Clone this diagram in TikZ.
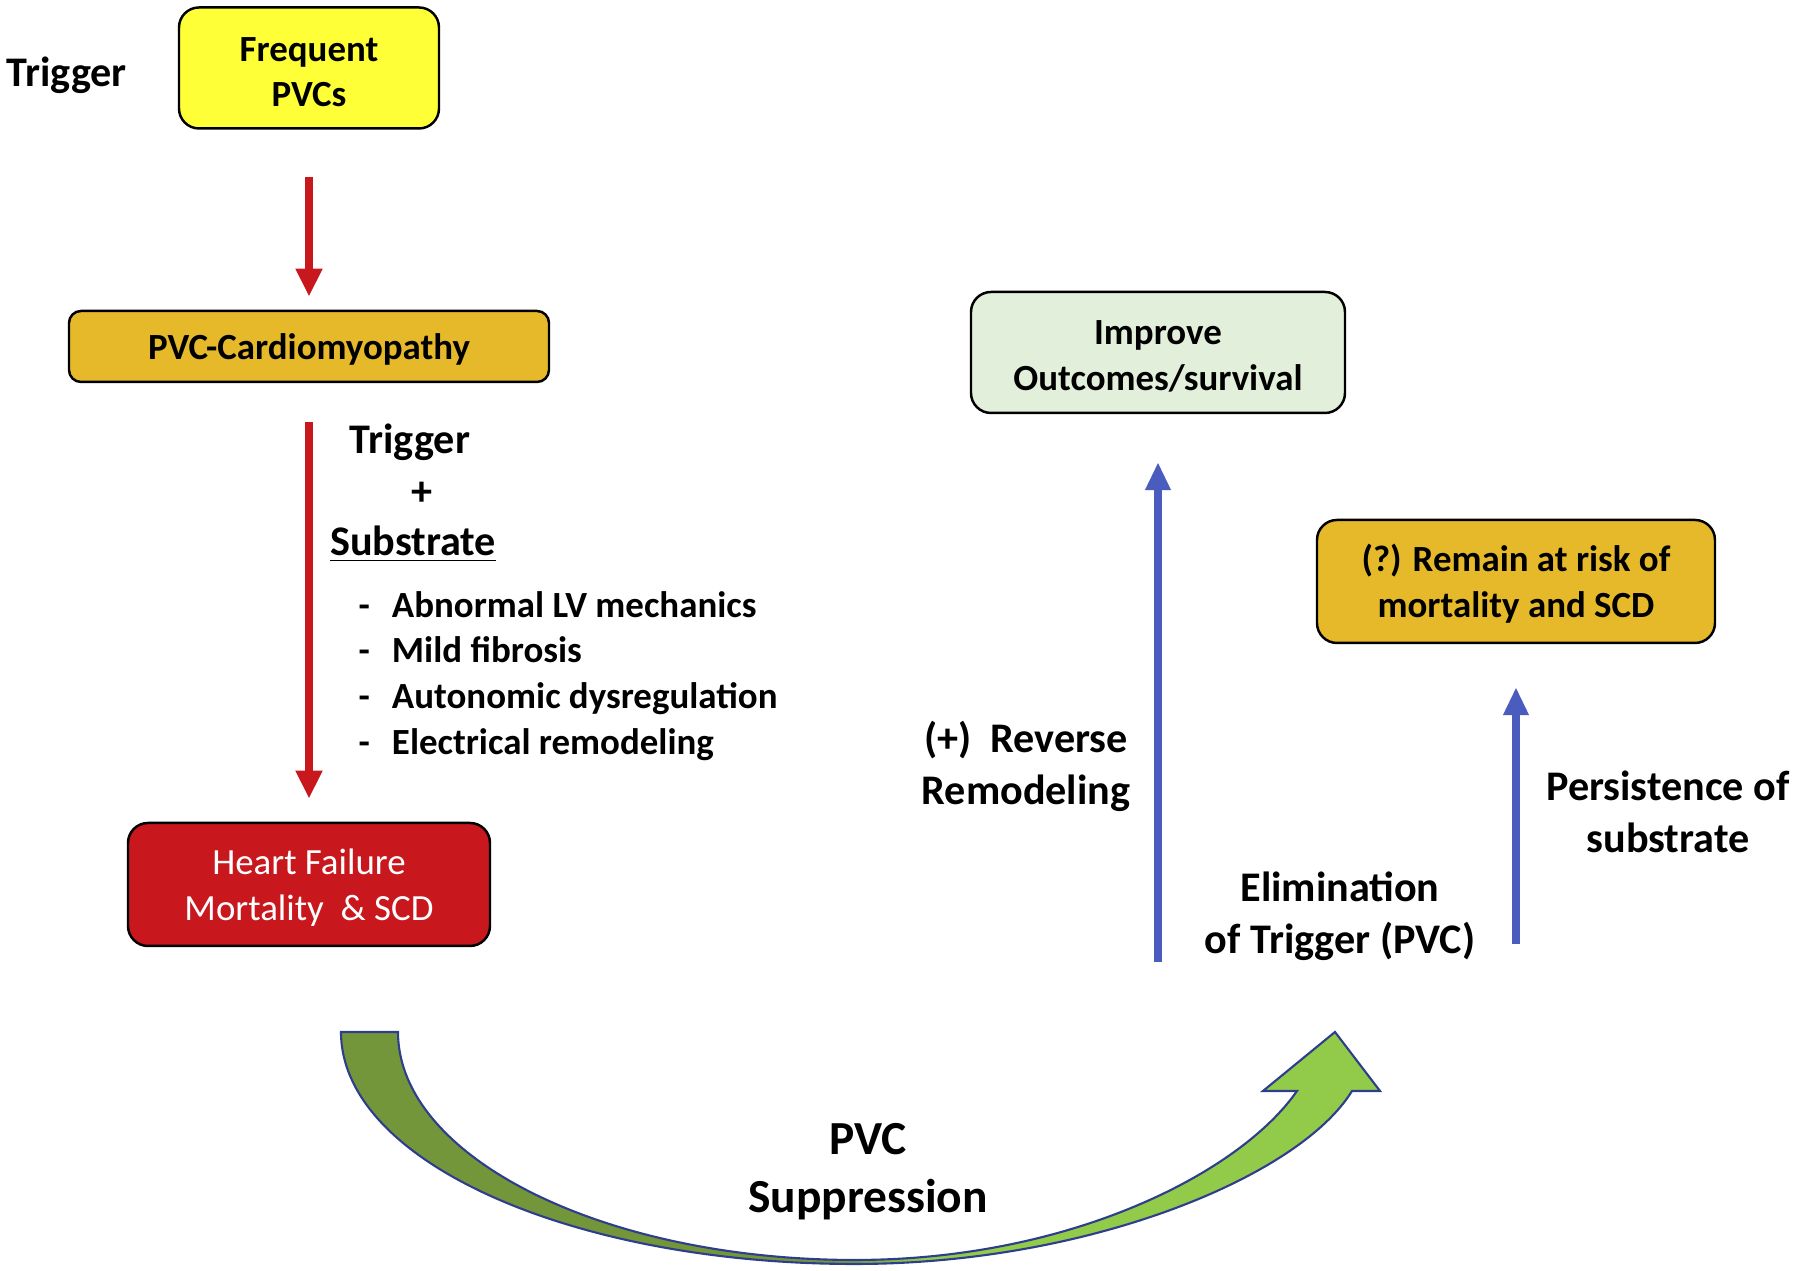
\documentclass[tikz,border=0pt]{standalone}
\usepackage{fontspec}
\setmainfont{Carlito}
\usetikzlibrary{arrows.meta}

\definecolor{pvcyellow}{HTML}{FFFF37}
\definecolor{pvcgold}{HTML}{E6B92A}
\definecolor{hfred}{HTML}{C8171D}
\definecolor{paleg}{HTML}{E2EFDA}
\definecolor{arrowblue}{HTML}{4A5CBD}
\definecolor{darkolive}{HTML}{74963A}
\definecolor{lightolive}{HTML}{92CA4A}
\definecolor{edgeblue}{HTML}{2F3E8C}

% dark half on the left, light half on the right
\pgfdeclarehorizontalshading{greenband}{100bp}{color(0bp)=(darkolive); color(49bp)=(darkolive); color(53bp)=(lightolive); color(100bp)=(lightolive)}

\newcommand{\boxfont}{\fontsize{10.5}{13}\selectfont\bfseries}
\newcommand{\lblfont}{\fontsize{12}{14.8}\selectfont\bfseries}
\newcommand{\topstrut}{\rule{0pt}{9.2pt}}

\begin{document}
\begin{tikzpicture}
    \tikzstyle{box}=[rectangle,rounded corners=0.2cm,draw=black,line width=0.7pt,align=center,inner sep=0pt,font=\boxfont]
    \tikzstyle{lbl}=[align=center,inner sep=0pt,font=\lblfont]
    \tikzstyle{redarrow}=[draw=hfred,line width=2.1pt,-{Triangle[length=0.28cm,width=0.25cm]}]
    \tikzstyle{bluearrow}=[draw=arrowblue,line width=2pt,-{Triangle[length=0.28cm,width=0.24cm]}]

    \useasboundingbox (0,0) rectangle (18,12.71);

    % Left column
    \node [lbl,anchor=west] (trigtop) at (0.06,11.96) {Trigger};
    \node [box,fill=pvcyellow,minimum width=2.60cm,minimum height=1.21cm] (freq) at (3.09,12.03) {\topstrut Frequent\\PVCs};
    \node [box,fill=pvcgold,rounded corners=0.12cm,minimum width=4.80cm,minimum height=0.71cm] (cardio) at (3.09,9.245) {\topstrut PVC-Cardiomyopathy};
    \node [box,fill=hfred,text=white,font=\fontsize{10.5}{13}\selectfont,minimum width=3.62cm,minimum height=1.23cm] (hf) at (3.09,3.865) {\topstrut Heart Failure\\Mortality\ \ \& SCD};

    \draw [redarrow,shorten <=0.47cm,shorten >=0.13cm] (freq) -- (cardio);
    \draw [redarrow,shorten <=0.39cm,shorten >=0.23cm] (cardio) -- (hf);

    % Trigger + substrate
    \node [lbl] (trigmid) at (4.10,8.29) {Trigger};
    \node [lbl] (plus) at (4.22,7.77) {+};
    \node [lbl] (subst) at (4.13,7.27) {\underline{Substrate}};
    \node [anchor=north west,inner sep=0pt,font=\boxfont] (sublist) at (3.58,6.865) {%
        \begin{tabular}{@{}l@{\hspace{0.22cm}}l@{}}
        - & Abnormal LV mechanics\\
        - & Mild fibrosis\\
        - & Autonomic dysregulation\\
        - & Electrical remodeling
        \end{tabular}};

    % PVC suppression arrow
    \shadedraw [draw=edgeblue,line width=0.6pt,shading=greenband]
        (3.41,2.39) .. controls (3.41,1.10) and (5.71,0.07) .. (8.55,0.07)
        .. controls (10.9,0.07) and (13.0,0.95) .. (13.52,1.80)
        -- (13.80,1.80) -- (13.35,2.39) -- (12.63,1.80) -- (12.97,1.80)
        .. controls (12.4,0.98) and (10.7,0.11) .. (8.55,0.11)
        .. controls (6.03,0.11) and (3.98,1.14) .. (3.98,2.39) -- cycle;
    \node [lbl,font=\fontsize{13.5}{16.4}\selectfont\bfseries] (supp) at (8.68,0.99) {PVC\\Suppression};

    % Right side
    \node [box,fill=paleg,minimum width=3.74cm,minimum height=1.21cm] (improve) at (11.58,9.185) {\topstrut Improve\\Outcomes/survival};
    \node [box,fill=pvcgold,minimum width=3.98cm,minimum height=1.23cm] (remain) at (15.16,6.895) {\topstrut(?) Remain at risk of\\mortality and SCD};

    \coordinate (elimA) at (11.58,3.09);
    \coordinate (elimB) at (15.16,3.27);
    \draw [bluearrow,shorten >=0.48cm] (elimA) -- (improve);
    \draw [bluearrow,shorten >=0.43cm] (elimB) -- (remain);

    \node [lbl] (reverse) at (10.26,5.045) {(+)\ \ Reverse\\Remodeling};
    \node [lbl] (elim) at (13.40,3.55) {Elimination\\of Trigger (PVC)};
    \node [lbl] (persist) at (16.68,4.59) {Persistence of\\substrate};
\end{tikzpicture}
\end{document}
